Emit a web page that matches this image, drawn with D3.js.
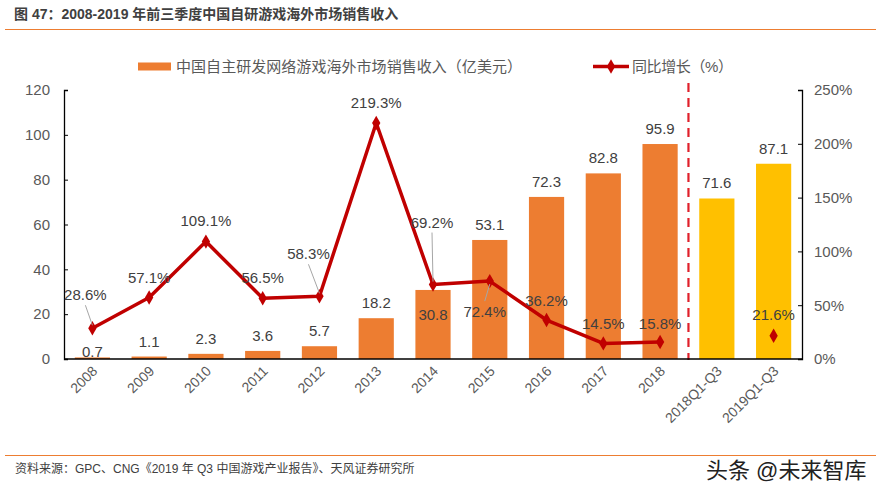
<!DOCTYPE html>
<html>
<head>
<meta charset="utf-8">
<script src="https://cdn.jsdelivr.net/npm/d3@7"></script>
<style>
  body { margin: 0; background: #fff; }
  svg { font-family: "Liberation Sans", Arial, "Noto Sans CJK SC", sans-serif; }
</style>
</head>
<body>
<div id="chart"></div>
<script>
// data
const categories = ["2008", "2009", "2010", "2011", "2012", "2013", "2014", "2015", "2016", "2017", "2018", "2018Q1-Q3", "2019Q1-Q3"];
const revenue = [0.7, 1.1, 2.3, 3.6, 5.7, 18.2, 30.8, 53.1, 72.3, 82.8, 95.9, 71.6, 87.1];
const growth = [28.6, 57.1, 109.1, 56.5, 58.3, 219.3, 69.2, 72.4, 36.2, 14.5, 15.8, null, 21.6];
const leftTicks = [0, 20, 40, 60, 80, 100, 120];
const rightTicks = [0, 50, 100, 150, 200, 250];

const W = 885, H = 494;
const margin = { top: 90, right: 83, bottom: 135, left: 64 },
    width = W - margin.left - margin.right,
    height = H - margin.top - margin.bottom;

const svg = d3.select("#chart").append("svg").attr("width", W).attr("height", H);

// title + rules
svg.append("text").attr("x", 14).attr("y", 19)
    .style("font-size", "14px").style("font-weight", "bold").attr("fill", "#404040")
    .text("图 47：2008-2019 年前三季度中国自研游戏海外市场销售收入");
svg.append("line").attr("x1", 5).attr("x2", 876).attr("y1", 29.5).attr("y2", 29.5)
    .attr("stroke", "#ED7D31").attr("stroke-width", 1.2);
svg.append("line").attr("x1", 5).attr("x2", 876).attr("y1", 455.5).attr("y2", 455.5)
    .attr("stroke", "#ED7D31").attr("stroke-width", 1.2);
svg.append("text").attr("x", 15).attr("y", 473)
    .style("font-size", "12px").attr("fill", "#404040")
    .text("资料来源：GPC、CNG《2019 年 Q3 中国游戏产业报告》、天风证券研究所");
svg.append("text").attr("x", 706).attr("y", 478)
    .style("font-size", "22px").attr("fill", "#222")
    .attr("stroke", "#fff").attr("stroke-width", 0.6).attr("paint-order", "stroke")
    .text("头条 @未来智库");

const g = svg.append("g").attr("transform", `translate(${margin.left},${margin.top})`);

const x = d3.scaleBand().domain(categories).range([0, width]).paddingInner(0.38).paddingOuter(0.19);
const y = d3.scaleLinear().domain([0, 120]).range([height, 0]);
const y2 = d3.scaleLinear().domain([0, 250]).range([height, 0]);
const cx = (d) => x(d) + x.bandwidth() / 2;

// bars
g.selectAll("rect.bar")
    .data(categories)
    .enter()
    .append("rect")
    .attr("class", "bar")
    .attr("x", (d) => x(d))
    .attr("y", (d, i) => y(revenue[i]))
    .attr("width", x.bandwidth())
    .attr("height", (d, i) => height - y(revenue[i]))
    .attr("fill", (d, i) => (i >= 11 ? "#FFC000" : "#ED7D31"));

// bar labels (a couple sit differently in the original)
const barLabelDy = { 0: 0, 6: 30 };
g.selectAll("text.barlab")
    .data(categories)
    .enter()
    .append("text")
    .attr("class", "barlab")
    .attr("x", cx)
    .attr("y", (d, i) => y(revenue[i]) + (barLabelDy[i] !== undefined ? barLabelDy[i] : -10))
    .attr("text-anchor", "middle")
    .style("font-size", "15px").attr("fill", "#404040")
    .text((d, i) => revenue[i]);

// dashed separator
const sepX = x(categories[11]) - x.step() * x.paddingInner() / 2;
g.append("line").attr("x1", sepX).attr("x2", sepX).attr("y1", -7).attr("y2", height + 1)
    .attr("stroke", "#E0202A").attr("stroke-width", 2.2).attr("stroke-dasharray", "9,6");

// axes
const axL = g.append("g").call(d3.axisLeft(y).tickValues(leftTicks).tickSize(-4).tickPadding(22));
const axR = g.append("g").attr("transform", `translate(${width},0)`)
    .call(d3.axisRight(y2).tickValues(rightTicks).tickSize(-4).tickPadding(22).tickFormat((d) => d + "%"));
[axL, axR].forEach((a) => {
    a.select(".domain").attr("stroke", "#000").attr("stroke-width", 1.3);
    a.selectAll(".tick line").attr("stroke", "#000");
    a.selectAll("text").style("font-size", "15px").attr("fill", "#595959").style("font-family", "inherit");
});
axL.selectAll("text").attr("x", -14);
axR.selectAll("text").attr("x", 12);

g.append("line").attr("x1", 0).attr("x2", width).attr("y1", height).attr("y2", height)
    .attr("stroke", "#000").attr("stroke-width", 1.5);

g.selectAll("text.xlab")
    .data(categories)
    .enter()
    .append("text")
    .attr("class", "xlab")
    .attr("transform", (d) => `translate(${cx(d) + 6},${height + 13}) rotate(-45)`)
    .attr("text-anchor", "end")
    .style("font-size", "14px").attr("fill", "#595959")
    .text((d) => d);

// growth line
const pts = categories.map((c, i) => ({ c, v: growth[i], i }));
const line = d3.line().defined((d) => d.v !== null && d.i < 11).x((d) => cx(d.c)).y((d) => y2(d.v));
g.append("path").datum(pts).attr("d", line)
    .attr("fill", "none").attr("stroke", "#C00000").attr("stroke-width", 3.5).attr("stroke-linejoin", "round");

const diamond = d3.symbol().type(d3.symbolDiamond).size(60);
g.selectAll("path.mk")
    .data(pts.filter((d) => d.v !== null))
    .enter()
    .append("path")
    .attr("class", "mk")
    .attr("d", diamond)
    .attr("transform", (d) => `translate(${cx(d.c)},${y2(d.v)})`)
    .attr("fill", "#C00000");

// growth labels: offset from the point, with optional leader line
const glab = {
    0: [-7, -28, true], 1: [0, -15], 2: [0, -16], 3: [0, -15], 4: [-11, -37, true],
    5: [0, -15], 6: [-1, -57, true], 7: [-5, 36, true], 8: [0, -14], 9: [0, -14], 10: [0, -13], 12: [0, -16]
};
pts.filter((d) => d.v !== null).forEach((d) => {
    const [dx, dy, lead] = glab[d.i];
    const px = cx(d.c), py = y2(d.v);
    if (lead) {
        const ty = dy < 0 ? py + dy + 5 : py + dy - 16;
        g.append("line").attr("x1", px + dx).attr("y1", ty).attr("x2", px).attr("y2", dy < 0 ? py - 3 : py + 3)
            .attr("stroke", "#A6A6A6").attr("stroke-width", 1);
    }
    g.append("text").attr("x", px + dx).attr("y", py + dy)
        .attr("text-anchor", "middle")
        .style("font-size", "15px").attr("fill", "#404040")
        .text(d.v.toFixed(1) + "%");
});

// legend
const lg = svg.append("g");
lg.append("rect").attr("x", 138).attr("y", 62.5).attr("width", 33).attr("height", 8).attr("fill", "#ED7D31");
lg.append("text").attr("x", 176).attr("y", 72).style("font-size", "15px").attr("fill", "#595959")
    .attr("textLength", 346).attr("lengthAdjust", "spacing")
    .text("中国自主研发网络游戏海外市场销售收入（亿美元）");
lg.append("line").attr("x1", 593).attr("x2", 629).attr("y1", 66.5).attr("y2", 66.5)
    .attr("stroke", "#C00000").attr("stroke-width", 3.5);
lg.append("path").attr("d", diamond).attr("transform", "translate(611,66.5)").attr("fill", "#C00000");
lg.append("text").attr("x", 632).attr("y", 72).style("font-size", "15px").attr("fill", "#595959")
    .attr("textLength", 101).attr("lengthAdjust", "spacing")
    .text("同比增长（%）");
</script>
</body>
</html>
